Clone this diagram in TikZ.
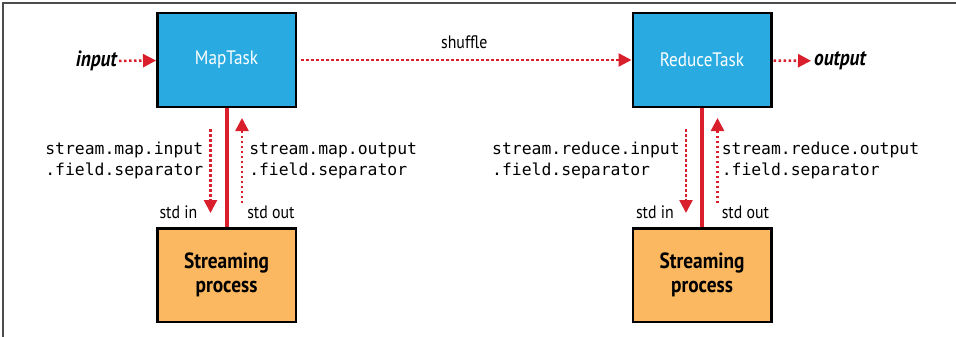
\documentclass[tikz,border=0pt]{standalone}
\usepackage{fontspec}
\setmainfont{PT Sans}[FakeStretch=0.88]
\setmonofont{DejaVu Sans Mono}
\usetikzlibrary{arrows.meta}

\definecolor{taskblue}{HTML}{29ABE2}
\definecolor{procorange}{HTML}{FBB860}
\definecolor{flowred}{HTML}{D91F2C}

\begin{document}
\begin{tikzpicture}[x=1pt, y=-1pt]
    \tikzset{
        box/.style={draw, line width=2.5pt, minimum width=138.5pt, minimum height=93.5pt, align=center},
        task/.style={box, fill=taskblue, text=white, font=\fontsize{19.5}{22}\selectfont},
        proc/.style={box, fill=procorange, font=\fontsize{22}{24}\selectfont\bfseries},
        io/.style={inner sep=0pt, font=\fontsize{22}{24}\selectfont\bfseries\itshape},
        flow/.style={draw=flowred, line width=2.5pt, dash pattern=on 2.5pt off 2.5pt, -{Triangle[length=13pt, width=13pt]}},
        pipe/.style={draw=flowred, line width=4pt},
        prop/.style={inner sep=0pt, align=left, font=\fontsize{16.4}{21}\ttfamily},
        std/.style={inner sep=0pt, font=\fontsize{18}{20}\selectfont}
    }
    \useasboundingbox (0,0) rectangle (956,337);
    \draw[black!70, line width=1.2pt] (3,337) -- (3,3) -- (956,3);

    \node[task] (maptask) at (226.5,60) {MapTask};
    \node[task] (reducetask) at (702,60) {ReduceTask};
    \node[proc] (mapproc) at (226.5,275) {Streaming\\process};
    \node[proc] (reduceproc) at (702,275) {Streaming\\process};
    \node[io, anchor=east] (input) at (117,61) {input};
    \node[io, anchor=west] (output) at (814,61) {output};

    \draw[flow, shorten <=2pt] (input) -- (maptask);
    \draw[flow, shorten <=4pt] (maptask) -- (reducetask) node[midway, above=10pt, std] {shuffle};
    \draw[flow, shorten <=1pt, shorten >=3pt] (reducetask) -- (output);

    % map side
    \draw[pipe] (maptask) -- (mapproc);
    \draw[flow, shorten <=21pt, shorten >=14pt] ([xshift=-16pt]maptask.south) -- ([xshift=-16pt]mapproc.north)
        node[pos=0.445, left=6pt, prop] {stream.map.input\\.field.separator}
        node[pos=0.874, left=12pt, std] {std in};
    \draw[flow, shorten <=24pt, shorten >=10pt] ([xshift=15.5pt]mapproc.north) -- ([xshift=15.5pt]maptask.south)
        node[pos=0.555, right=6pt, prop] {stream.map.output\\.field.separator}
        node[pos=0.126, right=4pt, std] {std out};

    % reduce side
    \draw[pipe] (reducetask) -- (reduceproc);
    \draw[flow, shorten <=21pt, shorten >=14pt] ([xshift=-16pt]reducetask.south) -- ([xshift=-16pt]reduceproc.north)
        node[pos=0.445, left=5pt, prop] {stream.reduce.input\\.field.separator}
        node[pos=0.874, left=11pt, std] {std in};
    \draw[flow, shorten <=24pt, shorten >=10pt] ([xshift=15.5pt]reduceproc.north) -- ([xshift=15.5pt]reducetask.south)
        node[pos=0.555, right=3pt, prop] {stream.reduce.output\\.field.separator}
        node[pos=0.126, right=3pt, std] {std out};
\end{tikzpicture}
\end{document}
